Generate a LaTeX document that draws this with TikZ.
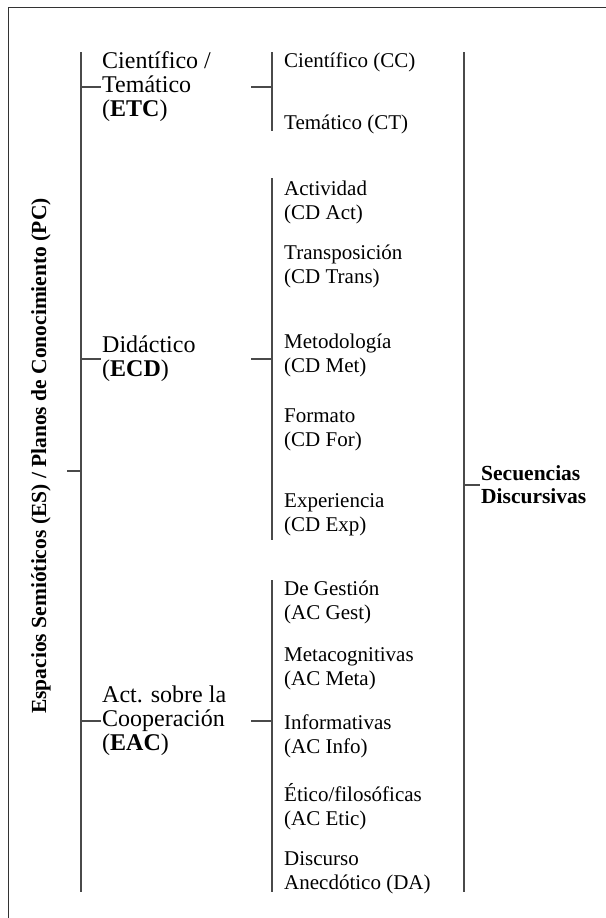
\documentclass[tikz,border=0pt]{standalone}
\usepackage{fontspec}
\setmainfont{Liberation Serif}
\usetikzlibrary{positioning}
\definecolor{rulegray}{HTML}{4A4A4A}
\tikzset{
  rule/.style={draw=rulegray, line width=1.2pt},
  frame/.style={draw=black!80, line width=1pt},
  plane/.style={anchor=west, inner sep=1pt, align=left, font=\fontsize{24}{24}\selectfont},
  leaf/.style={anchor=west, inner sep=1pt, align=left, font=\fontsize{21}{24}\selectfont},
  head/.style={inner sep=1pt, align=left, font=\fontsize{21.5}{23}\selectfont\bfseries},
}

\begin{document}
\begin{tikzpicture}[x=1pt, y=-1pt]
    \useasboundingbox (0,0) rectangle (605,918);
    \draw[frame] (8,919) -- (8,7) -- (606,7);

    \node[head, rotate=90] (es) at (41,456) {Espacios Semióticos (ES) / Planos de Conocimiento (PC)};
    \coordinate (spineTop) at (81,52);
    \coordinate (spineBot) at (81,892);
    \coordinate (esTick) at (67,471);
    \draw[rule] (spineTop) -- (spineBot);
    \draw[rule] (esTick) -- (esTick -| spineTop);

    \node[plane] (etc) at (101,87) {Científico /\\Temático\\(\textbf{ETC})};
    \node[plane] (ecd) at (101,359) {Didáctico\\(\textbf{ECD})};
    \node[plane] (eac) at (101,721) {Act. sobre la\\Cooperación\\(\textbf{EAC})};
    \foreach \n in {etc,ecd,eac}
      \draw[rule] (spineTop |- \n) -- (\n.west);

    \coordinate (etcTop) at (272,52);
    \coordinate (etcBot) at (272,131);
    \coordinate (ecdTop) at (272,178);
    \coordinate (ecdBot) at (272,540);
    \coordinate (eacTop) at (272,580);
    \coordinate (eacBot) at (272,892);
    \foreach \n in {etc,ecd,eac} {
      \coordinate (\n Fork) at (251,0 |- \n);
      \draw[rule] (\n Top) -- (\n Bot);
      \draw[rule] (\n Fork) -- (\n Fork -| \n Top);
    }

    \node[leaf] (cc) at (283,62) {Científico (CC)};
    \node[leaf] (ct) at (283,124) {Temático (CT)};

    \node[leaf] (cdAct) at (283,202) {Actividad\\(CD Act)};
    \node[leaf] (cdTrans) at (283,266) {Transposición\\(CD Trans)};
    \node[leaf] (cdMet) at (283,355) {Metodología\\(CD Met)};
    \node[leaf] (cdFor) at (283,430) {Formato\\(CD For)};
    \node[leaf] (cdExp) at (283,515) {Experiencia\\(CD Exp)};

    \node[leaf] (acGest) at (283,602) {De Gestión\\(AC Gest)};
    \node[leaf] (acMeta) at (283,669) {Metacognitivas\\(AC Meta)};
    \node[leaf] (acInfo) at (283,736) {Informativas\\(AC Info)};
    \node[leaf] (acEtic) at (283,807) {Ético/filosóficas\\(AC Etic)};
    \node[leaf] (da) at (283,873) {Discurso\\Anecdótico (DA)};

    \coordinate (seqTop) at (464,52);
    \coordinate (seqBot) at (464,892);
    \node[head, anchor=west] (seq) at (480,485) {Secuencias\\Discursivas};
    \draw[rule] (seqTop) -- (seqBot);
    \draw[rule] (seqTop |- seq) -- (seq.west);
\end{tikzpicture}
\end{document}
